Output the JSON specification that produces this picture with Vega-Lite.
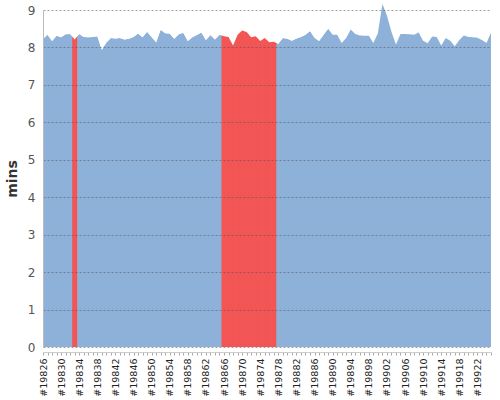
{
  "$schema": "https://vega.github.io/schema/vega-lite/v6.json",
  "autosize": "none",
  "width": 448,
  "height": 337,
  "padding": {"left": 43, "top": 10, "right": 9, "bottom": 53},
  "background": "white",
  "config": {
    "view": {"stroke": null},
    "font": "DejaVu Sans",
    "axisY": {
      "title": "mins",
      "titleFontSize": 14,
      "titleFontWeight": "bold",
      "titleColor": "#333333",
      "titlePadding": 8,
      "values": [0, 1, 2, 3, 4, 5, 6, 7, 8, 9],
      "labelFontSize": 12,
      "labelColor": "#555555",
      "labelPadding": 8,
      "ticks": false,
      "domainColor": "#bbbbbb",
      "domainWidth": 1,
      "gridColor": "#555555",
      "gridOpacity": 0.55,
      "gridDash": [2, 2]
    }
  },
  "data": {"values": [
    {"run": 19826, "mins": 8.23, "alert": false},
    {"run": 19827, "mins": 8.34, "alert": false},
    {"run": 19828, "mins": 8.17, "alert": false},
    {"run": 19829, "mins": 8.31, "alert": false},
    {"run": 19830, "mins": 8.27, "alert": false},
    {"run": 19831, "mins": 8.35, "alert": false},
    {"run": 19832, "mins": 8.36, "alert": false},
    {"run": 19833, "mins": 8.21, "alert": true},
    {"run": 19834, "mins": 8.36, "alert": false},
    {"run": 19835, "mins": 8.28, "alert": false},
    {"run": 19836, "mins": 8.27, "alert": false},
    {"run": 19837, "mins": 8.28, "alert": false},
    {"run": 19838, "mins": 8.30, "alert": false},
    {"run": 19839, "mins": 7.94, "alert": false},
    {"run": 19840, "mins": 8.13, "alert": false},
    {"run": 19841, "mins": 8.25, "alert": false},
    {"run": 19842, "mins": 8.24, "alert": false},
    {"run": 19843, "mins": 8.25, "alert": false},
    {"run": 19844, "mins": 8.21, "alert": false},
    {"run": 19845, "mins": 8.23, "alert": false},
    {"run": 19846, "mins": 8.28, "alert": false},
    {"run": 19847, "mins": 8.37, "alert": false},
    {"run": 19848, "mins": 8.27, "alert": false},
    {"run": 19849, "mins": 8.42, "alert": false},
    {"run": 19850, "mins": 8.28, "alert": false},
    {"run": 19851, "mins": 8.14, "alert": false},
    {"run": 19852, "mins": 8.47, "alert": false},
    {"run": 19853, "mins": 8.38, "alert": false},
    {"run": 19854, "mins": 8.37, "alert": false},
    {"run": 19855, "mins": 8.23, "alert": false},
    {"run": 19856, "mins": 8.35, "alert": false},
    {"run": 19857, "mins": 8.39, "alert": false},
    {"run": 19858, "mins": 8.17, "alert": false},
    {"run": 19859, "mins": 8.27, "alert": false},
    {"run": 19860, "mins": 8.33, "alert": false},
    {"run": 19861, "mins": 8.40, "alert": false},
    {"run": 19862, "mins": 8.20, "alert": false},
    {"run": 19863, "mins": 8.33, "alert": false},
    {"run": 19864, "mins": 8.21, "alert": false},
    {"run": 19865, "mins": 8.34, "alert": false},
    {"run": 19866, "mins": 8.30, "alert": true},
    {"run": 19867, "mins": 8.28, "alert": true},
    {"run": 19868, "mins": 8.05, "alert": true},
    {"run": 19869, "mins": 8.34, "alert": true},
    {"run": 19870, "mins": 8.45, "alert": true},
    {"run": 19871, "mins": 8.41, "alert": true},
    {"run": 19872, "mins": 8.27, "alert": true},
    {"run": 19873, "mins": 8.30, "alert": true},
    {"run": 19874, "mins": 8.17, "alert": true},
    {"run": 19875, "mins": 8.25, "alert": true},
    {"run": 19876, "mins": 8.14, "alert": true},
    {"run": 19877, "mins": 8.15, "alert": true},
    {"run": 19878, "mins": 8.10, "alert": false},
    {"run": 19879, "mins": 8.25, "alert": false},
    {"run": 19880, "mins": 8.23, "alert": false},
    {"run": 19881, "mins": 8.18, "alert": false},
    {"run": 19882, "mins": 8.24, "alert": false},
    {"run": 19883, "mins": 8.28, "alert": false},
    {"run": 19884, "mins": 8.34, "alert": false},
    {"run": 19885, "mins": 8.44, "alert": false},
    {"run": 19886, "mins": 8.26, "alert": false},
    {"run": 19887, "mins": 8.17, "alert": false},
    {"run": 19888, "mins": 8.34, "alert": false},
    {"run": 19889, "mins": 8.50, "alert": false},
    {"run": 19890, "mins": 8.34, "alert": false},
    {"run": 19891, "mins": 8.34, "alert": false},
    {"run": 19892, "mins": 8.12, "alert": false},
    {"run": 19893, "mins": 8.25, "alert": false},
    {"run": 19894, "mins": 8.48, "alert": false},
    {"run": 19895, "mins": 8.36, "alert": false},
    {"run": 19896, "mins": 8.32, "alert": false},
    {"run": 19897, "mins": 8.31, "alert": false},
    {"run": 19898, "mins": 8.31, "alert": false},
    {"run": 19899, "mins": 8.12, "alert": false},
    {"run": 19900, "mins": 8.38, "alert": false},
    {"run": 19901, "mins": 9.16, "alert": false},
    {"run": 19902, "mins": 8.85, "alert": false},
    {"run": 19903, "mins": 8.42, "alert": false},
    {"run": 19904, "mins": 8.08, "alert": false},
    {"run": 19905, "mins": 8.36, "alert": false},
    {"run": 19906, "mins": 8.36, "alert": false},
    {"run": 19907, "mins": 8.35, "alert": false},
    {"run": 19908, "mins": 8.34, "alert": false},
    {"run": 19909, "mins": 8.40, "alert": false},
    {"run": 19910, "mins": 8.18, "alert": false},
    {"run": 19911, "mins": 8.11, "alert": false},
    {"run": 19912, "mins": 8.29, "alert": false},
    {"run": 19913, "mins": 8.28, "alert": false},
    {"run": 19914, "mins": 8.05, "alert": false},
    {"run": 19915, "mins": 8.25, "alert": false},
    {"run": 19916, "mins": 8.18, "alert": false},
    {"run": 19917, "mins": 8.03, "alert": false},
    {"run": 19918, "mins": 8.20, "alert": false},
    {"run": 19919, "mins": 8.32, "alert": false},
    {"run": 19920, "mins": 8.28, "alert": false},
    {"run": 19921, "mins": 8.27, "alert": false},
    {"run": 19922, "mins": 8.26, "alert": false},
    {"run": 19923, "mins": 8.20, "alert": false},
    {"run": 19924, "mins": 8.12, "alert": false},
    {"run": 19925, "mins": 8.39, "alert": false}
  ]},
  "encoding": {
    "x": {
      "field": "run",
      "type": "quantitative",
      "scale": {"domain": [19826, 19925], "nice": false, "zero": false, "padding": 0},
      "axis": {
        "title": null,
        "values": [19826,19827,19828,19829,19830,19831,19832,19833,19834,19835,19836,19837,19838,19839,19840,19841,19842,19843,19844,19845,19846,19847,19848,19849,19850,19851,19852,19853,19854,19855,19856,19857,19858,19859,19860,19861,19862,19863,19864,19865,19866,19867,19868,19869,19870,19871,19872,19873,19874,19875,19876,19877,19878,19879,19880,19881,19882,19883,19884,19885,19886,19887,19888,19889,19890,19891,19892,19893,19894,19895,19896,19897,19898,19899,19900,19901,19902,19903,19904,19905,19906,19907,19908,19909,19910,19911,19912,19913,19914,19915,19916,19917,19918,19919,19920,19921,19922,19923,19924,19925],
        "labelExpr": "(datum.value - 19826) % 4 == 0 ? '#' + datum.value : ''",
        "labelAngle": 270,
        "labelOverlap": false,
        "labelFlush": false,
        "labelBound": false,
        "labelFontSize": 9.5,
        "labelColor": "#222222",
        "labelPadding": 3,
        "offset": 5,
        "grid": false,
        "domainColor": "#cccccc",
        "tickColor": "#aaaaaa",
        "tickSize": 3,
        "zindex": 1
      }
    }
  },
  "layer": [
    {
      "mark": {"type": "area", "color": "#8eb1da", "opacity": 1},
      "encoding": {
        "y": {
          "field": "mins",
          "type": "quantitative",
          "title": "mins",
          "scale": {"domain": [0, 9], "nice": false},
          "axis": {"zindex": 1}
        }
      }
    },
    {
      "transform": [{"filter": "datum.alert"}],
      "mark": {"type": "bar", "color": "#f35555", "width": 5.0, "opacity": 1},
      "encoding": {
        "y": {"datum": 9, "type": "quantitative", "title": "mins", "axis": {"zindex": 1}},
        "y2": {"datum": 0}
      }
    },
    {
      "transform": [{"filter": "datum.run < 19890"}],
      "mark": {"type": "area", "color": "white", "opacity": 1},
      "encoding": {
        "y": {"field": "mins", "type": "quantitative", "title": "mins", "axis": {"zindex": 1}},
        "y2": {"datum": 9}
      }
    }
  ]
}
